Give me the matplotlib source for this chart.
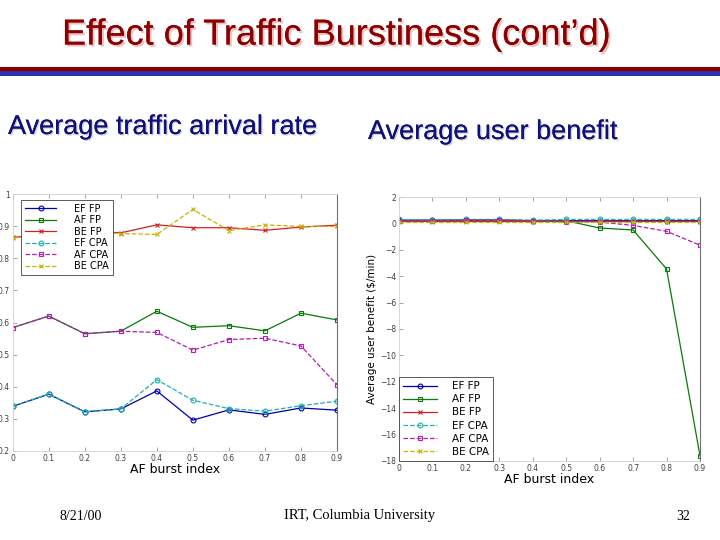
import matplotlib.pyplot as plt
import matplotlib.patheffects as pe
from matplotlib.patches import Rectangle

burst = [0, 0.1, 0.2, 0.3, 0.4, 0.5, 0.6, 0.7, 0.8, 0.9]
tick_labels = ['0', '0.1', '0.2', '0.3', '0.4', '0.5', '0.6', '0.7', '0.8', '0.9']
names = ['EF FP', 'AF FP', 'BE FP', 'EF CPA', 'AF CPA', 'BE CPA']

# average traffic arrival rate
rate_ef_fp = [0.339, 0.377, 0.322, 0.331, 0.387, 0.296, 0.328, 0.314, 0.334, 0.327]
rate_af_fp = [0.584, 0.620, 0.565, 0.573, 0.635, 0.585, 0.590, 0.574, 0.629, 0.608]
rate_be_fp = [0.865, 0.875, 0.885, 0.879, 0.904, 0.895, 0.895, 0.887, 0.897, 0.903]
rate_ef_cpa = [0.339, 0.377, 0.322, 0.331, 0.422, 0.358, 0.332, 0.324, 0.341, 0.355]
rate_af_cpa = [0.584, 0.620, 0.565, 0.573, 0.569, 0.514, 0.547, 0.551, 0.527, 0.406]
rate_be_cpa = [0.863, 0.872, 0.880, 0.877, 0.874, 0.952, 0.886, 0.904, 0.899, 0.899]

# average user benefit ($/min)
ben_ef_fp = [0.25, 0.25, 0.25, 0.25, 0.2, 0.2, 0.2, 0.2, 0.2, 0.2]
ben_af_fp = [0.2, 0.2, 0.25, 0.25, 0.2, 0.2, -0.35, -0.5, -3.45, -17.6]
ben_be_fp = [0.15, 0.15, 0.15, 0.15, 0.15, 0.15, 0.15, 0.15, 0.15, 0.15]
ben_ef_cpa = [0.3, 0.25, 0.3, 0.3, 0.25, 0.3, 0.3, 0.3, 0.3, 0.3]
ben_af_cpa = [0.2, 0.2, 0.25, 0.25, 0.2, 0.1, 0.1, -0.15, -0.6, -1.65]
ben_be_cpa = [0.1, 0.1, 0.1, 0.1, 0.1, 0.1, 0.1, 0.1, 0.1, 0.1]

colors = ['#0000a8', '#0a7a0a', '#d02020', '#20b0b0', '#b020b0', '#c8b400']
styles = ['-', '-', '-', '--', '--', '--']
markers = ['o', 's', 'x', 'o', 's', 'x']

fig = plt.figure(figsize=(7.2, 5.4), dpi=100)

# title
title = fig.text(62 / 720, 1 - 35 / 540, 'Effect of Traffic Burstiness (cont\u2019d)',
                 family=['Liberation Sans Narrow', 'Liberation Sans'], fontsize=26,
                 color='#8b0000', va='center', ha='left')
title.set_path_effects([pe.withSimplePatchShadow(offset=(1.5, -1.5), shadow_rgbFace='#ecc0c0', alpha=1),
                        pe.Normal()])
fig.add_artist(Rectangle((0, 1 - 71 / 540), 1, 4.5 / 540, transform=fig.transFigure,
                         color='#8b0000', lw=0))
fig.add_artist(Rectangle((0, 1 - 75.5 / 540), 1, 4.5 / 540, transform=fig.transFigure,
                         color='#3030a8', lw=0))

sub_pe = [pe.withSimplePatchShadow(offset=(1, -1), shadow_rgbFace='#d0d0e0', alpha=1), pe.Normal()]
t1 = fig.text(8 / 720, 1 - 127 / 540, 'Average traffic arrival rate', family='Liberation Sans',
              fontsize=19.5, color='#10107a', va='center')
t1.set_path_effects(sub_pe)
t2 = fig.text(368 / 720, 1 - 132 / 540, 'Average user benefit', family='Liberation Sans',
              fontsize=19.5, color='#10107a', va='center')
t2.set_path_effects(sub_pe)

fig.text(60 / 720, 1 - 516 / 540, '8/21/00', family='Liberation Serif', fontsize=10, va='center')
fig.text(360 / 720, 1 - 516 / 540, 'IRT, Columbia University', family='Liberation Serif',
         fontsize=10.5, va='center', ha='center')
fig.text(690 / 720, 1 - 516 / 540, '32', family='Liberation Serif', fontsize=10,
         va='center', ha='right')


def style_axes(ax):
    for s in ['left', 'bottom', 'top']:
        ax.spines[s].set_color('#d0d0d0')
        ax.spines[s].set_linewidth(0.6)
    ax.spines['right'].set_color('#707070')
    ax.spines['right'].set_linewidth(0.8)
    ax.tick_params(labelsize=5.5, length=3, width=0.5, color='#808080',
                   direction='in', top=True, labelcolor='#404040', pad=2)
    ax.set_xticks(burst)
    ax.set_xticklabels(tick_labels)
    ax.set_xlim(0, 0.9)
    ax.set_xlabel('AF burst index', fontsize=9, labelpad=0)


# left chart
ax1 = fig.add_axes([12.7 / 720, 1 - 451 / 540, (337 - 12.7) / 720, (451 - 194) / 540])
rates = [rate_ef_fp, rate_af_fp, rate_be_fp, rate_ef_cpa, rate_af_cpa, rate_be_cpa]
for vals, c, ls, m, n in zip(rates, colors, styles, markers, names):
    ax1.plot(burst, vals, color=c, linestyle=ls, marker=m, markersize=3.5,
             markerfacecolor='none', markeredgewidth=0.8, linewidth=0.9, label=n)
ax1.set_ylim(0.2, 1.0)
ax1.set_yticks([0.2, 0.3, 0.4, 0.5, 0.6, 0.7, 0.8, 0.9, 1.0])
ax1.set_yticklabels(['0.2', '0.3', '0.4', '0.5', '0.6', '0.7', '0.8', '0.9', '1'])
style_axes(ax1)
leg1 = ax1.legend(loc='upper left', bbox_to_anchor=(0.027, 0.977), fontsize=7,
                  handlelength=3.2, labelspacing=0.15, borderpad=0.4, handletextpad=1.8,
                  fancybox=False, framealpha=1, edgecolor='#404040', borderaxespad=0)
leg1.get_frame().set_linewidth(0.6)

# right chart
ax2 = fig.add_axes([399 / 720, 1 - 461 / 540, (700 - 399) / 720, (461 - 197) / 540])
bens = [ben_ef_fp, ben_af_fp, ben_be_fp, ben_ef_cpa, ben_af_cpa, ben_be_cpa]
for vals, c, ls, m, n in zip(bens, colors, styles, markers, names):
    ax2.plot(burst, vals, color=c, linestyle=ls, marker=m, markersize=3.5,
             markerfacecolor='none', markeredgewidth=0.8, linewidth=0.9, label=n)
ax2.set_ylim(-18, 2)
ax2.set_yticks(range(-18, 3, 2))
style_axes(ax2)
ax2.set_ylabel('Average user benefit ($/min)', fontsize=7.5, labelpad=2)
leg2 = ax2.legend(loc='lower left', fontsize=7.5, handlelength=3.2, labelspacing=0.3,
                  borderpad=0.4, handletextpad=1.5, fancybox=False, framealpha=1,
                  edgecolor='#404040', borderaxespad=0)
leg2.get_frame().set_linewidth(0.6)

fig.savefig('out.png', dpi=100)
